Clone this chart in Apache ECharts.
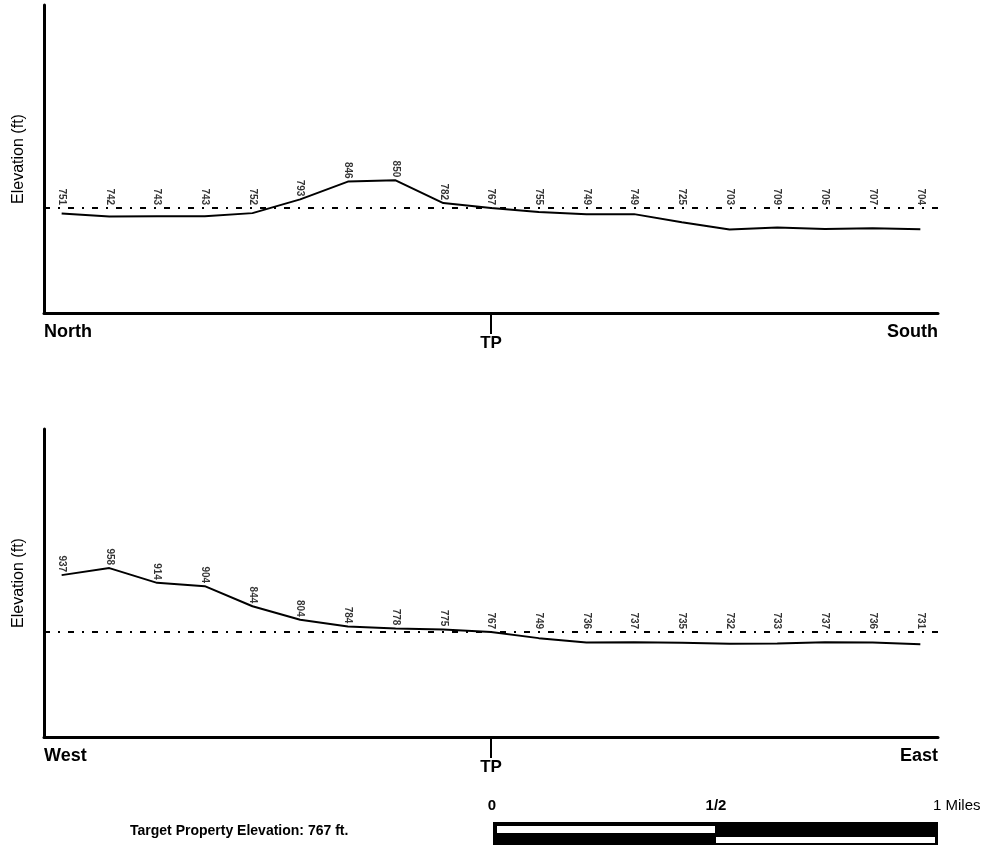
<!DOCTYPE html>
<html>
<head>
<meta charset="utf-8">
<title>Elevation profile</title>
<script src="https://cdn.jsdelivr.net/npm/echarts@6/dist/echarts.min.js"></script>
<style>
  html, body { margin: 0; padding: 0; background: #fff; }
  #chart { width: 982px; height: 845px; }
</style>
</head>
<body>
<div id="chart"></div>
<script>
// elevations, one per sample point (19 per profile)
const tpElevation = 767;
const northSouth = [751, 742, 743, 743, 752, 793, 846, 850, 782, 767, 755, 749, 749, 725, 703, 709, 705, 707, 704];
const westEast = [937, 958, 914, 904, 844, 804, 784, 778, 775, 767, 749, 736, 737, 735, 732, 733, 737, 736, 731];
const tpIndex = 9;
const profileNames = [["North", "South"], ["West", "East"]];
const scaleTicks = ["0", "1/2", "1 Miles"];

const yMin = 454;
const yMax = 1373;
const font = "Arial, 'Liberation Sans', sans-serif";

const chart = echarts.init(document.getElementById("chart"));

function lineSeries(values, idx) {
  return {
    type: "line",
    xAxisIndex: idx,
    yAxisIndex: idx,
    data: values.map((v, i) => [i, v]),
    showSymbol: false,
    lineStyle: { color: "#000", width: 2 },
    silent: true,
    markLine: {
      silent: true,
      symbol: "none",
      label: { show: false },
      lineStyle: { color: "#000", width: 2, type: [6, 8, 2, 8] },
      data: [{ yAxis: tpElevation }],
    },
  };
}

// labels sit above the point, or above the TP line when the point is lower
function labelSeries(values, idx) {
  return {
    type: "scatter",
    xAxisIndex: idx,
    yAxisIndex: idx,
    symbolSize: 0,
    silent: true,
    data: values.map((v, i) => [i, Math.max(v, tpElevation), v]),
    label: {
      show: true,
      position: "top",
      distance: 3,
      rotate: -90,
      align: "right",
      verticalAlign: "middle",
      formatter: (p) => String(p.value[2]),
      color: "#000",
      fontSize: 10,
      fontWeight: "bold",
      fontFamily: font,
    },
  };
}

function xAxis(idx) {
  return {
    type: "value",
    gridIndex: idx,
    min: -0.37,
    max: 18.37,
    axisLine: { show: true, onZero: false, lineStyle: { color: "#000", width: 3 } },
    axisTick: { show: false },
    axisLabel: { show: false },
    splitLine: { show: false },
  };
}

function yAxis(idx) {
  return {
    type: "value",
    gridIndex: idx,
    min: yMin,
    max: yMax,
    name: "Elevation (ft)",
    nameLocation: "middle",
    nameGap: 17,
    nameTextStyle: { color: "#000", fontSize: 16, fontFamily: font },
    axisLine: { show: true, onZero: false, lineStyle: { color: "#000", width: 3 } },
    axisTick: { show: false },
    axisLabel: { show: false },
    splitLine: { show: false },
  };
}

chart.setOption({
  animation: false,
  grid: [
    { left: 44, right: 44, top: 5, height: 308 },
    { left: 44, right: 44, top: 429, height: 308 },
  ],
  xAxis: [xAxis(0), xAxis(1)],
  yAxis: [yAxis(0), yAxis(1)],
  series: [
    lineSeries(northSouth, 0),
    labelSeries(northSouth, 0),
    lineSeries(westEast, 1),
    labelSeries(westEast, 1),
  ],
});

// TP ticks, direction names and the footer
const graphics = [];
[0, 1].forEach((g) => {
  const base = chart.convertToPixel({ gridIndex: g }, [tpIndex, yMin]);
  const left = chart.convertToPixel({ gridIndex: g }, [-0.37, yMin])[0];
  const right = chart.convertToPixel({ gridIndex: g }, [18.37, yMin])[0];
  graphics.push({
    type: "line",
    shape: { x1: base[0], y1: base[1], x2: base[0], y2: base[1] + 21 },
    style: { stroke: "#000", lineWidth: 2 },
  });
  graphics.push({
    type: "text", x: base[0], y: base[1] + 22,
    style: { text: "TP", font: "bold 17px " + font, fill: "#000", align: "center" },
  });
  graphics.push({
    type: "text", x: left, y: base[1] + 10,
    style: { text: profileNames[g][0], font: "bold 18px " + font, fill: "#000", align: "left" },
  });
  graphics.push({
    type: "text", x: right, y: base[1] + 10,
    style: { text: profileNames[g][1], font: "bold 18px " + font, fill: "#000", align: "right" },
  });
});

graphics.push({
  type: "text", x: 130, y: 824,
  style: { text: "Target Property Elevation: " + tpElevation + " ft.", font: "bold 14px " + font, fill: "#000" },
});
graphics.push({ type: "text", x: 492, y: 798, style: { text: scaleTicks[0], font: "bold 15px " + font, fill: "#000", align: "center" } });
graphics.push({ type: "text", x: 716, y: 798, style: { text: scaleTicks[1], font: "bold 15px " + font, fill: "#000", align: "center" } });
graphics.push({ type: "text", x: 933, y: 798, style: { text: scaleTicks[2], font: "15px " + font, fill: "#000", align: "left" } });
graphics.push({ type: "rect", shape: { x: 493, y: 822, width: 445, height: 23 }, style: { fill: "#000" } });
graphics.push({ type: "rect", shape: { x: 497, y: 826, width: 218, height: 7 }, style: { fill: "#fff" } });
graphics.push({ type: "rect", shape: { x: 716, y: 837, width: 219, height: 6 }, style: { fill: "#fff" } });

chart.setOption({ graphic: graphics });
</script>
</body>
</html>
